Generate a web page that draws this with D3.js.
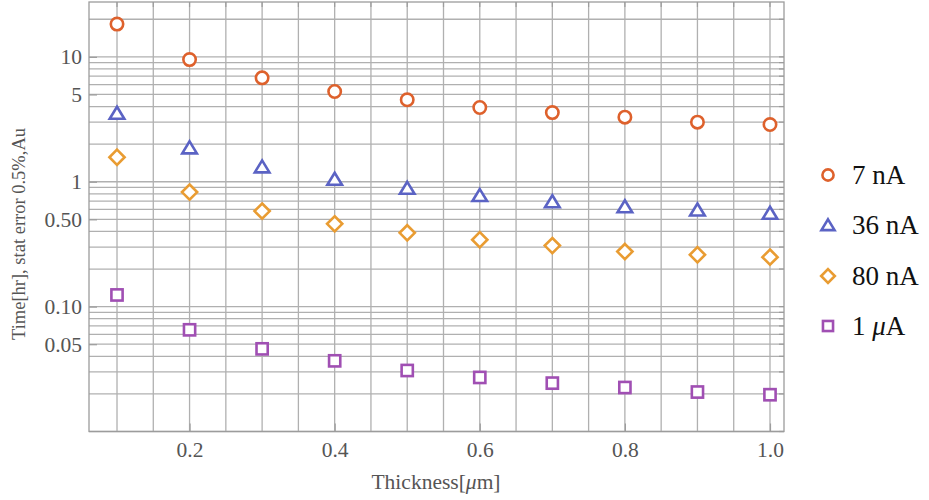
<!DOCTYPE html>
<html>
<head>
<meta charset="utf-8">
<script src="https://cdn.jsdelivr.net/npm/d3@7"></script>
<style>
  body { margin: 0; background: #fff; }
  svg { display: block; }
  svg text { font-family: "Liberation Serif", "DejaVu Serif", serif !important; }
</style>
</head>
<body>
<svg id="chart" width="929" height="500"></svg>
<script>
// thickness in micrometres
const thickness = [0.1, 0.2, 0.3, 0.4, 0.5, 0.6, 0.7, 0.8, 0.9, 1.0];

// time [hr] for 0.5% stat error, one array per beam current
const time7nA  = [18.3, 9.51, 6.79, 5.28, 4.53, 3.93, 3.58, 3.29, 3.00, 2.87];
const time36nA = [3.55, 1.875, 1.32, 1.05, 0.889, 0.778, 0.694, 0.633, 0.596, 0.561];
const time80nA = [1.57, 0.826, 0.582, 0.46, 0.39, 0.343, 0.308, 0.276, 0.26, 0.249];
const time1uA  = [0.124, 0.0652, 0.0459, 0.0368, 0.0308, 0.0271, 0.0244, 0.0225, 0.0207, 0.0197];

const seriesNames = ["7 nA", "36 nA", "80 nA", "1 μA"];
const xTickValues = [0.2, 0.4, 0.6, 0.8, 1.0];
const xTickLabels = ["0.2", "0.4", "0.6", "0.8", "1.0"];
const yTickValues = [0.05, 0.1, 0.5, 1, 5, 10];
const yTickLabels = ["0.05", "0.10", "0.50", "1", "5", "10"];

const series = [
  { name: seriesNames[0], values: time7nA,  color: "#de612c", shape: "circle" },
  { name: seriesNames[1], values: time36nA, color: "#5b63c4", shape: "triangle" },
  { name: seriesNames[2], values: time80nA, color: "#e99c32", shape: "diamond" },
  { name: seriesNames[3], values: time1uA,  color: "#a04fb3", shape: "square" }
];

const box = { left: 89, right: 784, top: 2, bottom: 431.5 };
const gridColor = "#b0b0b0";
const frameColor = "#9c9c9c";
const labelColor = "#555";

const svg = d3.select("#chart");

const x = d3.scaleLinear().domain([0.0614, 1.0193]).range([box.left, box.right]);
const y = d3.scaleLog().domain([0.01, 27.5]).range([box.bottom, box.top]);

// grid lines: every 0.05 in x, 1..9 of each decade in y
const xGrid = d3.range(2, 21).map(i => i * 0.05);
const yGrid = [0.01, 0.1, 1].flatMap(d => d3.range(1, 10).map(k => k * d)).concat([10, 20]);

const grid = svg.append("g");
grid.selectAll("line.vx")
  .data(xGrid)
  .enter().append("line")
  .attr("x1", d => x(d)).attr("x2", d => x(d))
  .attr("y1", box.top).attr("y2", box.bottom)
  .attr("stroke", gridColor)
  .attr("stroke-width", 1.3);

grid.selectAll("line.hy")
  .data(yGrid)
  .enter().append("line")
  .attr("x1", box.left).attr("x2", box.right)
  .attr("y1", d => y(d)).attr("y2", d => y(d))
  .attr("stroke", gridColor)
  .attr("stroke-width", 1.3);

// frame ticks (inward) with labels on the left and bottom
const xAxis = d3.axisBottom(x)
  .tickValues(xTickValues)
  .tickFormat((d, i) => xTickLabels[i])
  .tickSize(-8)
  .tickPadding(10);

const yAxis = d3.axisLeft(y)
  .tickValues(yTickValues)
  .tickFormat((d, i) => yTickLabels[i])
  .tickSize(-8)
  .tickPadding(7);

const gx = svg.append("g")
  .attr("transform", `translate(0,${box.bottom})`)
  .call(xAxis);

const gy = svg.append("g")
  .attr("transform", `translate(${box.left},0)`)
  .call(yAxis);

[gx, gy].forEach(g => {
  g.attr("font-family", null).attr("font-size", null);
  g.select(".domain").remove();
  g.selectAll(".tick line").attr("stroke", frameColor).attr("stroke-width", 1.2);
  g.selectAll(".tick text")
    .attr("fill", labelColor)
    .style("font-size", "21.5px");
});

// minor ticks on the right and top edges
svg.append("g").selectAll("line")
  .data(yGrid)
  .enter().append("line")
  .attr("x1", box.right - 5).attr("x2", box.right)
  .attr("y1", d => y(d)).attr("y2", d => y(d))
  .attr("stroke", frameColor)
  .attr("stroke-width", 1.2);

svg.append("g").selectAll("line")
  .data(xGrid)
  .enter().append("line")
  .attr("x1", d => x(d)).attr("x2", d => x(d))
  .attr("y1", box.top).attr("y2", box.top + 5)
  .attr("stroke", frameColor)
  .attr("stroke-width", 1.2);

svg.append("rect")
  .attr("x", box.left)
  .attr("y", box.top)
  .attr("width", box.right - box.left)
  .attr("height", box.bottom - box.top)
  .attr("fill", "none")
  .attr("stroke", frameColor)
  .attr("stroke-width", 1.3);

// marker shapes, centred on the point
function drawMarker(sel, shape, color, s) {
  let m;
  if (shape === "circle") {
    m = sel.append("circle").attr("r", 6.2 * s);
  } else if (shape === "triangle") {
    m = sel.append("path").attr("d", `M0,${-6.3 * s}L${7.3 * s},${5.7 * s}L${-7.3 * s},${5.7 * s}Z`);
  } else if (shape === "diamond") {
    m = sel.append("path").attr("d", `M0,${-7.6 * s}L${7.6 * s},0L0,${7.6 * s}L${-7.6 * s},0Z`);
  } else {
    m = sel.append("rect")
      .attr("x", -5.6 * s).attr("y", -5.6 * s)
      .attr("width", 11.2 * s).attr("height", 11.2 * s);
  }
  m.attr("fill", "#fff")
    .attr("stroke", color)
    .attr("stroke-width", 2.6);
}

const points = svg.append("g");
series.forEach(sr => {
  points.append("g")
    .selectAll("g")
    .data(sr.values)
    .enter().append("g")
    .attr("transform", (d, i) => `translate(${x(thickness[i])},${y(d)})`)
    .each(function () { drawMarker(d3.select(this), sr.shape, sr.color, 1); });
});

// axis titles
svg.append("text")
  .attr("x", 436)
  .attr("y", 489)
  .attr("text-anchor", "middle")
  .style("font-size", "21.5px")
  .attr("fill", labelColor)
  .html('Thickness[<tspan font-style="italic">μ</tspan>m]');

svg.append("text")
  .attr("transform", "translate(25,234) rotate(-90)")
  .attr("text-anchor", "middle")
  .style("font-size", "18.5px")
  .attr("fill", labelColor)
  .text("Time[hr], stat error 0.5%,Au");

// legend
const legend = svg.append("g");
const legendY = [175, 225, 276, 326];
series.forEach((sr, i) => {
  const item = legend.append("g").attr("transform", `translate(828,${legendY[i]})`);
  drawMarker(item, sr.shape, sr.color, 0.9);
  const t = item.append("text")
    .attr("x", 24)
    .attr("y", 8.5)
    .style("font-size", "27px")
    .attr("fill", "#111");
  if (sr.name === "1 μA") {
    t.html('1 <tspan font-style="italic">μ</tspan>A');
  } else {
    t.text(sr.name);
  }
});
</script>
</body>
</html>
